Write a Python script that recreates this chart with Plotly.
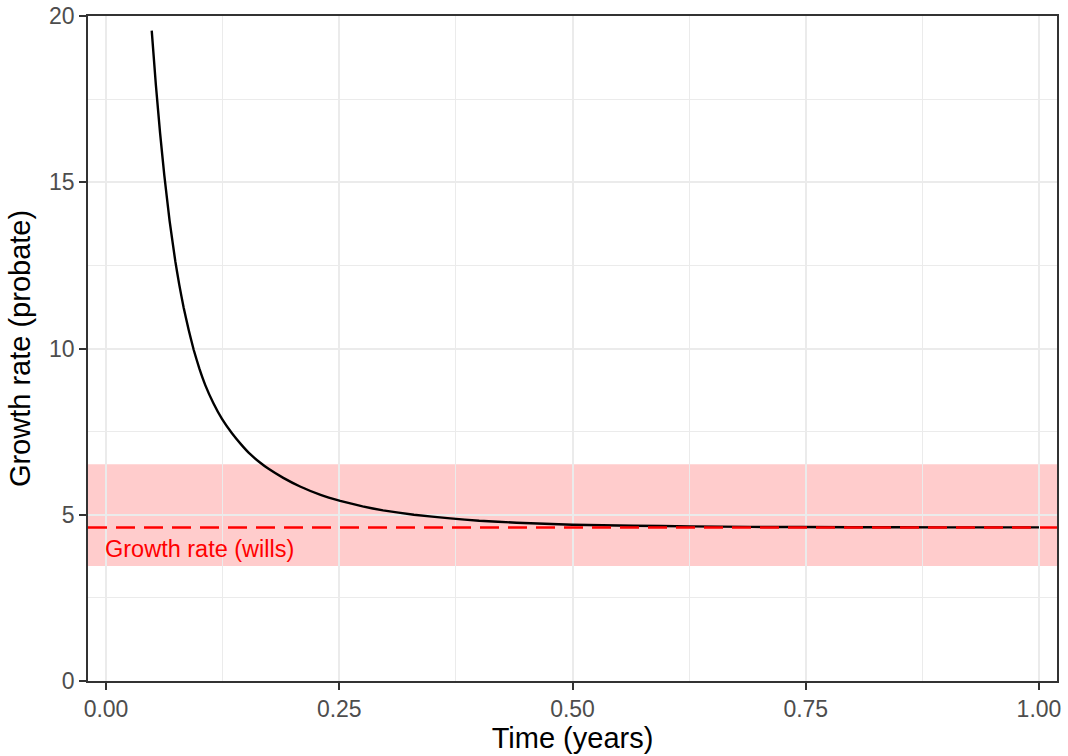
import plotly.graph_objects as go

# Estimated probate growth rate as a function of elapsed time
time_years = [0.049, 0.0535, 0.058, 0.0625, 0.0682, 0.0743, 0.0785, 0.0832,
              0.0885, 0.0939, 0.100, 0.1064, 0.115, 0.1243, 0.135, 0.145,
              0.1546, 0.165, 0.1742, 0.190, 0.208, 0.230, 0.251, 0.275,
              0.297, 0.330, 0.369, 0.400, 0.440, 0.500, 0.565, 0.626,
              0.690, 0.800, 0.900, 1.000]
growth_probate = [19.56, 17.91, 16.47, 15.21, 13.83, 12.62, 11.92, 11.23,
                  10.57, 9.97, 9.40, 8.90, 8.36, 7.88, 7.45, 7.11,
                  6.82, 6.57, 6.38, 6.11, 5.85, 5.60, 5.42, 5.25,
                  5.13, 5.00, 4.89, 4.82, 4.76, 4.70, 4.67, 4.65,
                  4.635, 4.625, 4.62, 4.62]

# Growth rate estimated from wills, with its uncertainty interval
wills_rate = 4.62
wills_lower = 3.46
wills_upper = 6.52
wills_label = "Growth rate (wills)"

x_ticks = [0.0, 0.25, 0.5, 0.75, 1.0]
x_tick_labels = ["0.00", "0.25", "0.50", "0.75", "1.00"]
y_ticks = [0, 5, 10, 15, 20]
y_tick_labels = ["0", "5", "10", "15", "20"]

FONT = "Liberation Sans, Arial, Helvetica, sans-serif"
GRID = "#EBEBEB"
AXIS = "#333333"

fig = go.Figure()

fig.add_trace(go.Scatter(
    x=time_years, y=growth_probate, mode="lines",
    line=dict(color="black", width=2.4, shape="spline", smoothing=0.3),
    showlegend=False, hoverinfo="skip",
))

# Uncertainty band for the wills-based rate
fig.add_shape(type="rect", xref="paper", x0=0, x1=1,
              yref="y", y0=wills_lower, y1=wills_upper,
              fillcolor="red", opacity=0.2, line=dict(width=0), layer="between")

# Wills-based rate as a dashed reference line
fig.add_shape(type="line", xref="paper", x0=0, x1=1,
              yref="y", y0=wills_rate, y1=wills_rate,
              line=dict(color="red", width=2.5, dash="19px,9px"), layer="above")

fig.add_annotation(x=0, y=3.97, xref="x", yref="y", text=wills_label,
                   showarrow=False, xanchor="left", yanchor="middle", xshift=-3,
                   font=dict(family=FONT, size=23.5, color="red"))

axis_common = dict(
    showline=True, linecolor=AXIS, linewidth=1.5, mirror=True,
    ticks="outside", ticklen=7, tickwidth=1.5, tickcolor=AXIS,
    tickfont=dict(family=FONT, size=23, color="#4D4D4D"),
    showgrid=True, gridcolor=GRID, gridwidth=2, zeroline=False,
    title_font=dict(family=FONT, size=29, color="black"),
    automargin=False,
)

fig.update_xaxes(
    range=[-0.0193, 1.0193], tickmode="array",
    tickvals=x_ticks, ticktext=x_tick_labels,
    minor=dict(showgrid=True, gridcolor=GRID, gridwidth=1, dtick=0.125,
               tick0=0.125, ticks=""),
    title_text="Time (years)", title_standoff=4,
    **axis_common,
)
fig.update_yaxes(
    range=[0, 20], tickmode="array",
    tickvals=y_ticks, ticktext=y_tick_labels,
    minor=dict(showgrid=True, gridcolor=GRID, gridwidth=1, dtick=2.5,
               tick0=2.5, ticks=""),
    title_text="Growth rate (probate)", title_standoff=10,
    **axis_common,
)

fig.update_layout(
    width=1068, height=756,
    margin=dict(l=88, r=11, t=16, b=75),
    plot_bgcolor="white", paper_bgcolor="white",
    font=dict(family=FONT),
    showlegend=False,
)

fig.write_html("out.html")
